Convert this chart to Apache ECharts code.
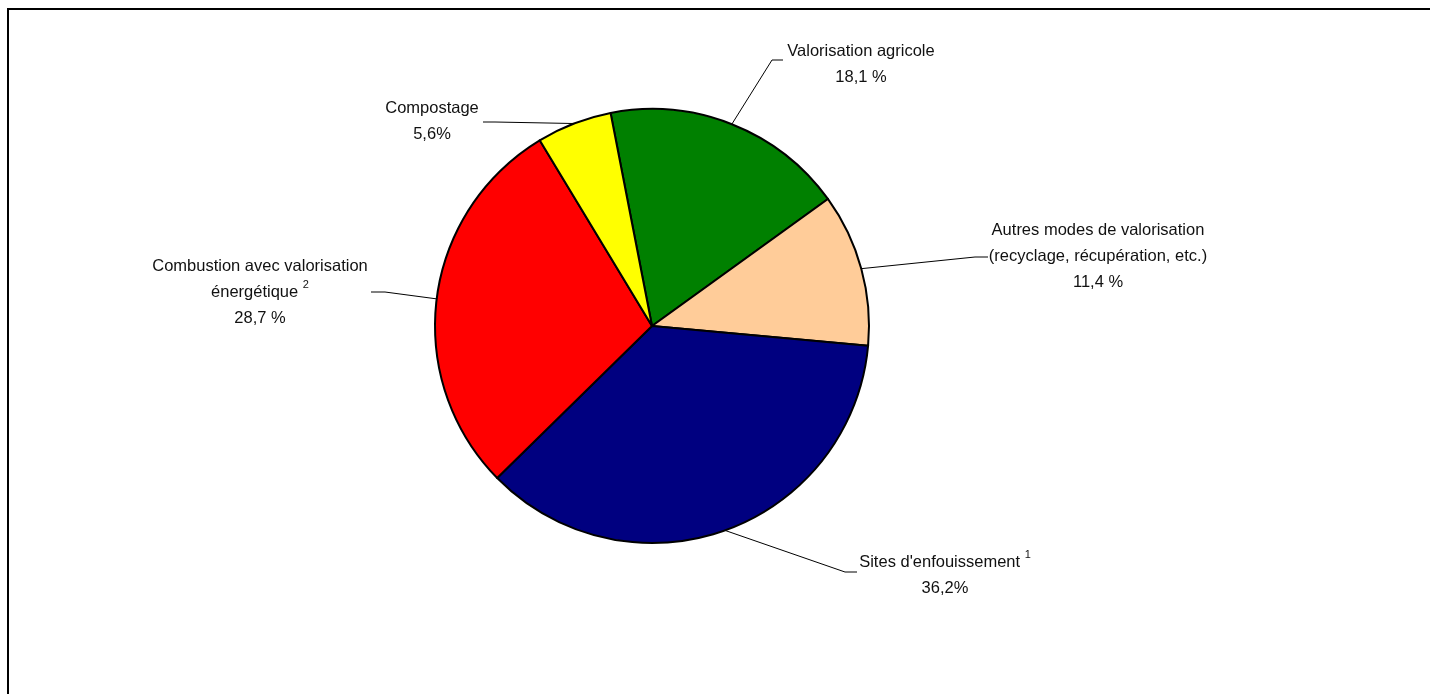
<!DOCTYPE html>
<html><head><meta charset="utf-8">
<script src="https://cdn.jsdelivr.net/npm/echarts@6/dist/echarts.min.js"></script>
<style>html,body{margin:0;padding:0;background:#fff;overflow:hidden}#chart{width:1430px;height:694px}</style>
</head><body><div id="chart"></div>
<script>
// Data (clockwise from the top, starting with "Valorisation agricole")
const categories = [
  'Valorisation agricole',
  'Autres modes de valorisation\n(recyclage, récupération, etc.)',
  "Sites d'enfouissement {sup|1}",
  'Combustion avec valorisation\nénergétique {sup|2}',
  'Compostage'
];
const values = [18.1, 11.4, 36.2, 28.7, 5.6];
const percentSeparators = [' ', ' ', '', ' ', ''];
const colors = ['#008000', '#FFCC99', '#000080', '#FF0000', '#FFFF00'];

// Label placement (text-block centre, leader elbow, leader end) in pixels
const labelCenters = [[861, 64], [1098, 256], [945, 575], [260, 292], [432, 121]];
const leaderElbows = [[772, 60], [975, 257], [845, 572], [385, 292], [495, 122]];
const leaderEnds   = [[783, 60], [988, 257], [857, 572], [371, 292], [483, 122]];

const FONT = "'Liberation Sans Narrow','Arial Narrow','Liberation Sans',Arial,sans-serif";

const chart = echarts.init(document.getElementById('chart'), null, {renderer: 'canvas'});
const seriesData = categories.map((c, i) => ({
  name: c,
  value: values[i],
  itemStyle: {color: colors[i]}
}));

chart.setOption({
  animation: false,
  backgroundColor: '#ffffff',
  graphic: [
    {type: 'rect', shape: {x: 8, y: 9, width: 1460, height: 720},
     style: {fill: null, stroke: '#000', lineWidth: 2}, silent: true, z: 100},
    {type: 'text', x: 360, y: -9.5, style: {text: 'p', font: 'bold 20px Liberation Sans', fill: '#000', verticalAlign: 'middle'}},
    {type: 'text', x: 389, y: -9.5, style: {text: 'p', font: 'bold 20px Liberation Sans', fill: '#000', verticalAlign: 'middle'}},
    {type: 'text', x: 500, y: -9.5, style: {text: 'p', font: 'bold 20px Liberation Sans', fill: '#000', verticalAlign: 'middle'}}
  ],
  series: [{
    type: 'pie',
    center: [652, 326],
    radius: 217,
    startAngle: 101,
    clockwise: true,
    avoidLabelOverlap: false,
    emphasis: {disabled: true},
    itemStyle: {borderColor: '#000', borderWidth: 2},
    label: {
      show: true,
      position: 'outside',
      formatter: p => {
        const i = p.dataIndex;
        return categories[i] + '\n' + values[i].toFixed(1).replace('.', ',') + percentSeparators[i] + '%';
      },
      fontFamily: FONT,
      fontSize: 16.5,
      lineHeight: 26,
      color: '#111',
      align: 'center',
      rich: {
        sup: {fontFamily: FONT, fontSize: 11, lineHeight: 12, verticalAlign: 'top', color: '#111'}
      }
    },
    labelLine: {show: true, length: 20, length2: 10, smooth: false,
      lineStyle: {color: '#000', width: 1}},
    labelLayout: function (params) {
      const i = params.dataIndex;
      return {
        x: labelCenters[i][0],
        y: labelCenters[i][1],
        align: 'center',
        verticalAlign: 'middle',
        labelLinePoints: [params.labelLinePoints[0], leaderElbows[i], leaderEnds[i]]
      };
    },
    data: seriesData
  }]
});
</script>
</body></html>
